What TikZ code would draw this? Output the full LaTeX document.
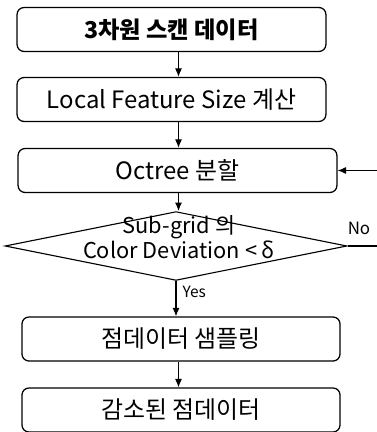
\documentclass[tikz,border=0pt]{standalone}
\usepackage{fontspec}
\setmainfont{Noto Sans CJK KR}
\usetikzlibrary{shapes.geometric,arrows.meta}

\begin{document}
\begin{tikzpicture}[x=0.025cm,y=-0.025cm,
    stepbox/.style={draw,line width=0.9pt,rounded corners=5pt,inner sep=0pt,
      minimum height=1.1cm,font=\fontsize{17}{19}\selectfont},
    decide/.style={draw,line width=0.8pt,diamond,inner sep=0pt,
      minimum width=8.55cm,minimum height=1.72cm},
    flow/.style={line width=0.8pt,-{Latex[length=6pt,width=5pt]}}]
   \useasboundingbox (0,0) rectangle (376,432);

   \node[stepbox,minimum width=7.72cm,font=\fontsize{16.5}{19}\selectfont\bfseries] (scan) at (171.5,29.5) {3차원 스캔 데이터};
   \node[stepbox,minimum width=7.72cm] (lfs) at (171.5,99.5) {Local Feature Size 계산};
   \node[stepbox,minimum width=7.97cm] (octree) at (177.5,170.5) {Octree 분할};
   \node[decide] (check) at (176,246) {};
   \node[align=center,font=\fontsize{15.5}{12.5}\selectfont,inner sep=0pt] (checktext) at (179,237) {Sub-grid 의\\Color Deviation < δ};
   \node[stepbox,minimum width=7.95cm] (sample) at (181,339) {점데이터 샘플링};
   \node[stepbox,minimum width=7.95cm] (reduced) at (181,410) {감소된 점데이터};

   \coordinate (col) at (178.5,0);
   \coordinate (loop) at (378,0);

   \draw[flow] (scan.south -| col) -- (lfs.north -| col);
   \draw[flow] (lfs.south -| col) -- (octree.north -| col);
   \draw[flow] (octree.south -| col) -- (check.north -| col);
   \draw[flow] (check.south) -- (sample.north -| check.south)
      node[pos=0.3,right=1pt,font=\fontsize{11}{13}\selectfont] (yes) {Yes};
   \draw[flow] (sample.south -| col) -- (reduced.north -| col);

   % back to the octree step
   \draw[flow] (check.east) -- (check.east -| loop) |- (octree.east);
   \node[font=\fontsize{12}{14}\selectfont] (no) at (359,228) {No};
\end{tikzpicture}
\end{document}
